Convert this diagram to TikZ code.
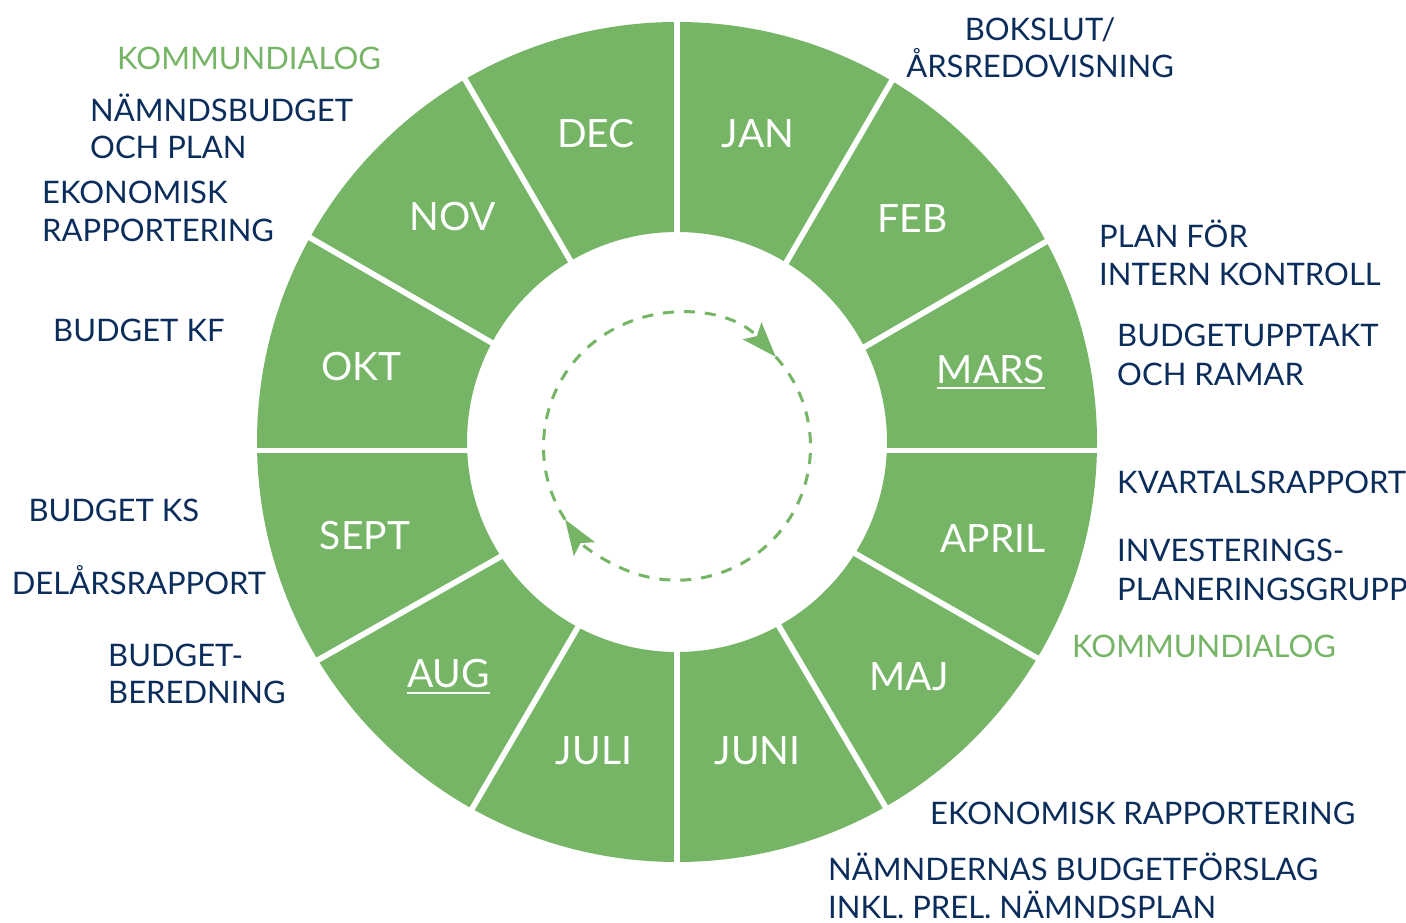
\documentclass[tikz,border=0pt]{standalone}
\usepackage{fontspec}
\setmainfont{Lato}
\usetikzlibrary{arrows.meta,calc}
\definecolor{ringgreen}{RGB}{117,181,101}
\definecolor{textblue}{RGB}{11,45,91}
\begin{document}
\begin{tikzpicture}[x=1pt,y=1pt,
  month/.style={text=white, font=\fontsize{39}{39}\selectfont, inner sep=0pt, anchor=base},
  lbl/.style={text=textblue, font=\fontsize{31}{31}\selectfont, inner sep=0pt, anchor=base west},
  glbl/.style={lbl, text=ringgreen},
  sepline/.style={draw=white, line width=5.7pt},
  uline/.style={draw=white, line width=2pt},
  cyc/.style={draw=ringgreen, line width=3pt, dash pattern=on 11pt off 10pt, -{Stealth[length=35pt,width=25pt,inset=7pt]}}
]
\fill[white] (0,0) rectangle (1406,923);
\useasboundingbox (0,0) rectangle (1406,923);
% ring
\coordinate (C) at (677,481);
\fill[ringgreen, even odd rule] (C) circle[radius=420] (C) circle[radius=210];
% separators
\coordinate (s1a) at (677,923); \coordinate (s1b) at (677,640);
\coordinate (s2a) at (677,40);  \coordinate (s2b) at (677,320);
\coordinate (s3a) at (230,472.5); \coordinate (s3b) at (490,472.5);
\coordinate (s4a) at (1120,472.5); \coordinate (s4b) at (860,472.5);
\coordinate (s5a) at (465,843.7); \coordinate (s5b) at (570,663);
\coordinate (s6a) at (891.7,842); \coordinate (s6b) at (786.7,661.3);
\coordinate (s7a) at (310,685.3); \coordinate (s7b) at (490,581.3);
\coordinate (s8a) at (1045,680.7); \coordinate (s8b) at (865,576.3);
\coordinate (s9a) at (1037,265); \coordinate (s9b) at (856,369);
\coordinate (s10a) at (883.3,119.7); \coordinate (s10b) at (779.3,296.3);
\coordinate (s11a) at (473.3,116.3); \coordinate (s11b) at (577.3,294.7);
\coordinate (s12a) at (318,263); \coordinate (s12b) at (500,366);
\begin{scope}
\clip (C) circle[radius=424];
\foreach \s in {1,...,12}{
  \draw[sepline] ($(s\s a)!-0.15!(s\s b)$) -- ($(s\s a)!1.1!(s\s b)$);
}
\end{scope}
% cycle arrows
\coordinate (D) at (677,476.3);
\coordinate (p1) at ($(D)+(213.1:133.5)$);
\coordinate (p2) at ($(D)+(42.3:133.5)$);
\draw[cyc] (p1) arc[start angle=213.1, end angle=42.3, radius=133.5];
\draw[cyc] (p2) arc[start angle=42.3, end angle=-146.9, radius=133.5];
% months
\node[month] (dec) at (596,775) {DEC};
\node[month] (jan) at (758,775) {JAN};
\node[month] (feb) at (912.5,690.3) {FEB};
\node[month] (mars) at (991,539.7) {MARS};
\node[month] (april) at (993,370) {APRIL};
\node[month] (maj) at (909,232) {MAJ};
\node[month] (juni) at (757.5,158) {JUNI};
\node[month] (juli) at (594,158) {JULI};
\node[month] (aug) at (448.5,235) {AUG};
\node[month] (sept) at (365,373) {SEPT};
\node[month] (okt) at (361.7,542) {OKT};
\node[month] (nov) at (453,692) {NOV};
\draw[uline] ([yshift=-5pt]mars.base west) -- ([yshift=-5pt]mars.base east);
\draw[uline] ([yshift=-5pt]aug.base west) -- ([yshift=-5pt]aug.base east);
% left labels
\node[glbl] (kd1) at (117,853) {KOMMUNDIALOG};
\node[lbl] (nb1) at (90,801.3) {NÄMNDSBUDGET};
\node[lbl] (nb2) at (90,764.7) {OCH PLAN};
\node[lbl] (ek1) at (42,719) {EKONOMISK};
\node[lbl] (ek2) at (42,681.3) {RAPPORTERING};
\node[lbl] (bkf) at (53,581.3) {BUDGET KF};
\node[lbl] (bks) at (28.3,401.3) {BUDGET KS};
\node[lbl] (del) at (11.7,328) {DELÅRSRAPPORT};
\node[lbl] (bb1) at (108,256.3) {BUDGET-};
\node[lbl] (bb2) at (108,219) {BEREDNING};
% right labels
\node[lbl, anchor=base] (bo1) at (1040,882) {BOKSLUT/};
\node[lbl, anchor=base] (bo2) at (1040,845) {ÅRSREDOVISNING};
\node[lbl] (pf1) at (1099,675.3) {PLAN FÖR};
\node[lbl] (pf2) at (1099,637) {INTERN KONTROLL};
\node[lbl] (bu1) at (1117,576.3) {BUDGETUPPTAKT};
\node[lbl] (bu2) at (1117,537.3) {OCH RAMAR};
\node[lbl] (kv) at (1117,429.7) {KVARTALSRAPPORT};
\node[lbl] (in1) at (1117,361.3) {INVESTERINGS-};
\node[lbl] (in2) at (1117,322) {PLANERINGSGRUPP};
\node[glbl] (kd2) at (1072,265.7) {KOMMUNDIALOG};
\node[lbl] (ekr) at (930,98) {EKONOMISK RAPPORTERING};
\node[lbl] (nn1) at (828,42) {NÄMNDERNAS BUDGETFÖRSLAG};
\node[lbl] (nn2) at (828,4) {INKL. PREL. NÄMNDSPLAN};
\end{tikzpicture}
\end{document}
